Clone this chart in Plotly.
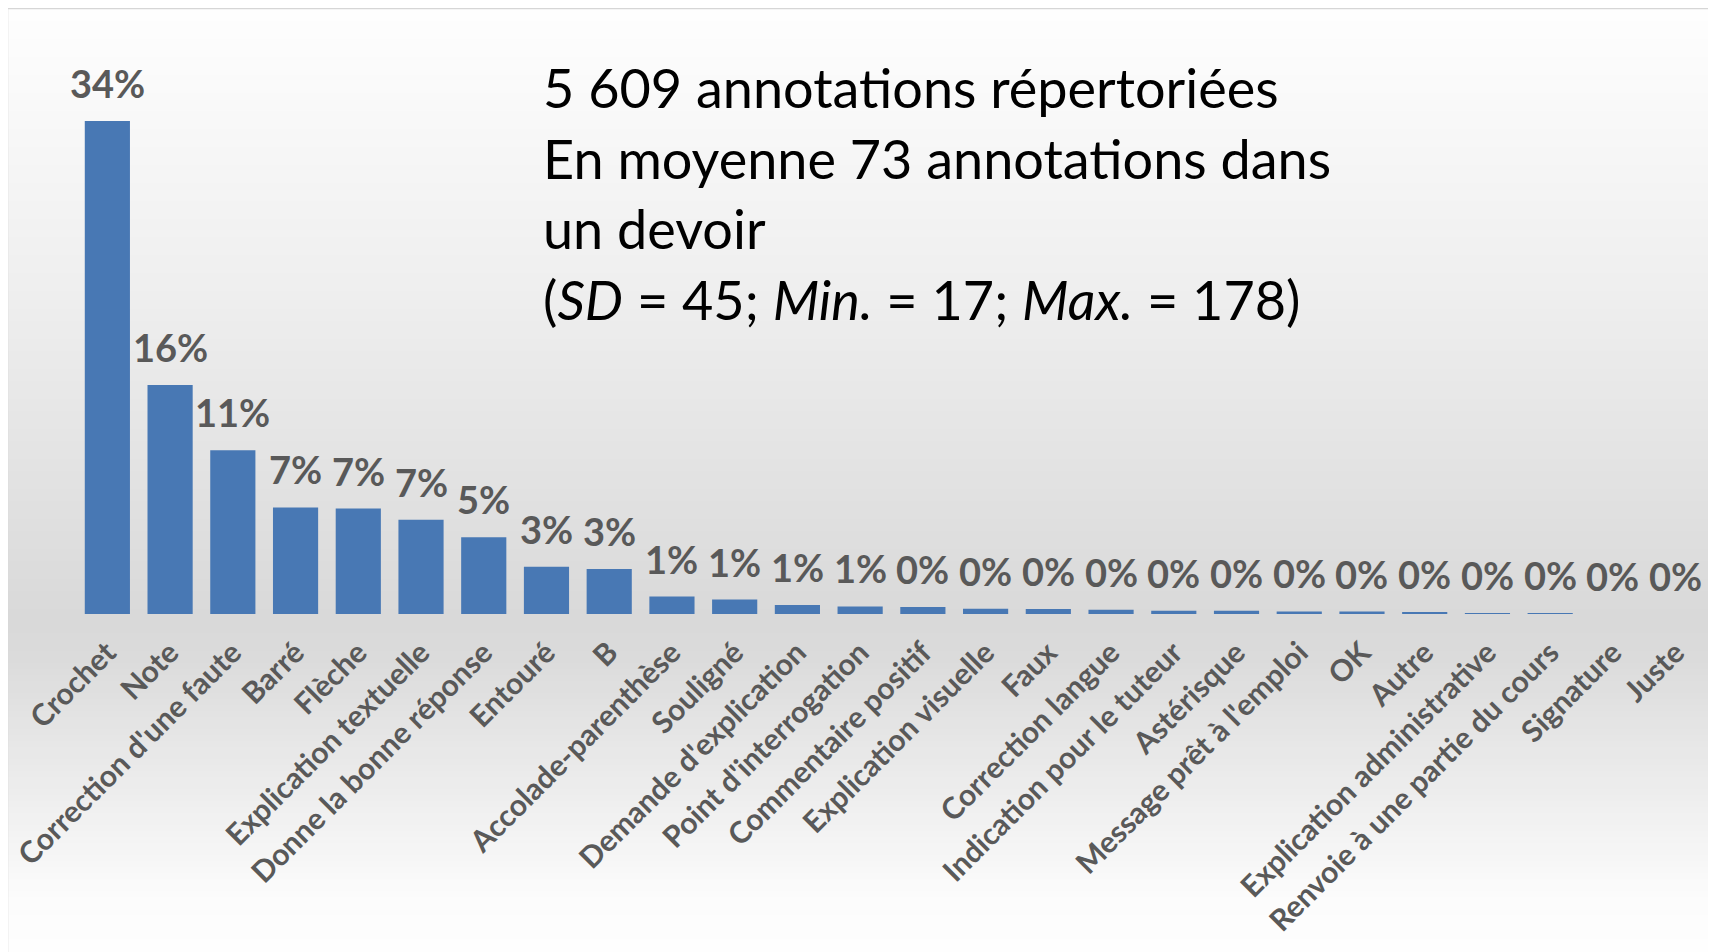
import plotly.graph_objects as go

categories = ["Crochet", "Note", "Correction d'une faute", "Barré", "Flèche",
              "Explication textuelle", "Donne la bonne réponse", "Entouré", "B",
              "Accolade-parenthèse", "Souligné", "Demande d'explication",
              "Point d'interrogation", "Commentaire positif", "Explication visuelle",
              "Faux", "Correction langue", "Indication pour le tuteur", "Astérisque",
              "Message prêt à l'emploi", "OK", "Autre", "Explication administrative",
              "Renvoie à une partie du cours", "Signature", "Juste"]
values = [34.0, 15.8, 11.3, 7.35, 7.27, 6.5, 5.3, 3.26, 3.1, 1.2, 1.0, 0.62,
          0.52, 0.48, 0.37, 0.35, 0.3, 0.23, 0.22, 0.18, 0.17, 0.11, 0.06, 0.06,
          0.0, 0.0]
labels = ["34%", "16%", "11%", "7%", "7%", "7%", "5%", "3%", "3%", "1%", "1%", "1%",
          "1%", "0%", "0%", "0%", "0%", "0%", "0%", "0%", "0%", "0%", "0%", "0%",
          "0%", "0%"]
info_lines = ["5 609 annotations répertoriées",
              "En moyenne 73 annotations dans",
              "un devoir",
              "(<i>SD</i> = 45; <i>Min.</i> = 17; <i>Max.</i> = 178)"]

# page body has an 8px margin: work in screen pixels, convert to figure pixels
OFF = 8
SW, SH = 1716, 952
W, H = SW - OFF, SH - OFF
plot_left, plot_right, plot_top, plot_bottom = 76.0, 1707.0, 34.0, 614.0  # screen px
ML = plot_left - OFF
MR = SW - plot_right
MT = plot_top - OFF
MB = SH - plot_bottom

def sy(py):
    return (plot_bottom - py) / (plot_bottom - plot_top)

def sx(px):
    return (px - plot_left) / (plot_right - plot_left)

fig = go.Figure()
fig.add_trace(go.Bar(x=categories, y=values, marker=dict(color="#4878b4", line=dict(width=0)),
                     hoverinfo="skip"))

shapes = []
stops = [(0, 255), (9, 254), (300, 238), (614, 217), (650, 218), (900, 252), (952, 254)]
def gray_at(y):
    for (y0, g0), (y1, g1) in zip(stops, stops[1:]):
        if y0 <= y <= y1:
            return g0 + (g1 - g0) * (y - y0) / (y1 - y0)
    return 254
step = 6
y = 9
while y < SH:
    g = int(round(gray_at(y + step / 2)))
    shapes.append(dict(type="rect", xref="paper", yref="paper",
                       x0=sx(8), x1=sx(SW + 5),
                       y0=sy(y), y1=sy(min(y + step + 0.5, SH + 2)),
                       fillcolor=f"rgb({g},{g},{g})", line=dict(width=0), layer="below"))
    y += step
shapes.append(dict(type="line", xref="paper", yref="paper", x0=sx(7), x1=sx(SW + 5),
                   y0=sy(8), y1=sy(8), line=dict(color="#d6d6d6", width=2.5), layer="below"))
shapes.append(dict(type="line", xref="paper", yref="paper", x0=sx(7), x1=sx(7),
                   y0=sy(8), y1=sy(SH + 5), line=dict(color="#d6d6d6", width=2.5), layer="below"))

annotations = []
for c, v, t in zip(categories, values, labels):
    annotations.append(dict(x=c, y=v, xref="x", yref="y", text=t, showarrow=False,
                            yanchor="middle", yshift=38,
                            font=dict(family="Lato", size=38, color="#595959", weight="bold")))
line_y = [88, 158, 228, 299]
for txt, ly in zip(info_lines, line_y):
    annotations.append(dict(x=sx(541), y=sy(ly), xref="paper", yref="paper",
                            text=txt, showarrow=False, xanchor="left", yanchor="middle",
                            font=dict(family="Lato", size=54, color="#000000")))

fig.update_layout(
    width=W, height=H,
    margin=dict(l=ML, r=MR, t=MT, b=MB, pad=0, autoexpand=False),
    paper_bgcolor="white", plot_bgcolor="rgba(0,0,0,0)",
    bargap=0.28, showlegend=False,
    shapes=shapes, annotations=annotations,
    xaxis=dict(tickangle=-45, showgrid=False, zeroline=False, showline=False, automargin=False,
               range=[-0.5, len(categories) - 0.5],
               ticks="outside", ticklen=8, tickcolor="rgba(0,0,0,0)",
               tickfont=dict(family="Lato", size=30, color="#595959", weight="bold"),
               fixedrange=True),
    yaxis=dict(range=[0, 40], visible=False, showgrid=False, zeroline=False, automargin=False,
               fixedrange=True),
)
fig.write_html("out.html")
